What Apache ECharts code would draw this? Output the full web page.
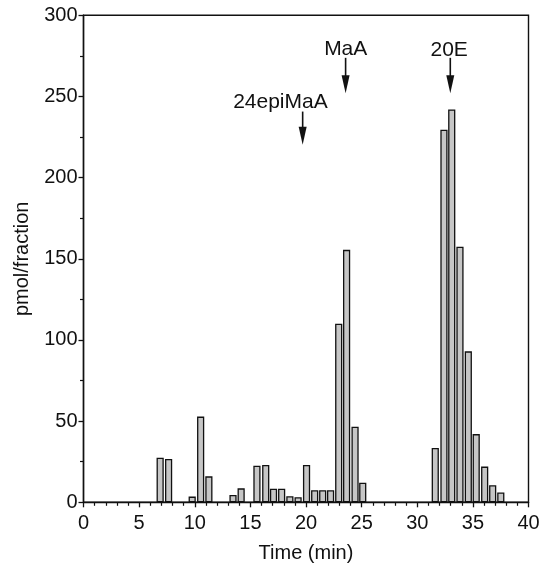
<!DOCTYPE html>
<html>
<head>
<meta charset="utf-8">
<script src="https://cdn.jsdelivr.net/npm/echarts@6/dist/echarts.min.js"></script>
<style>
  html, body { margin: 0; padding: 0; background: #fff; }
  #chart { width: 543px; height: 564px; }
</style>
</head>
<body>
<div id="chart"></div>
<script>
// Fraction retention times (min) and amount per fraction (pmol)
const fractionTimes = [
  6.89, 7.65, 9.77, 10.53, 11.27, 13.44, 14.17, 15.59, 16.38, 17.08,
  17.81, 18.55, 19.29, 20.05, 20.78, 21.50, 22.21, 22.94, 23.65, 24.41,
  25.10, 31.62, 32.40, 33.10, 33.84, 34.59, 35.30, 36.06, 36.78, 37.51
];
const pmolPerFraction = [
  27.5, 26.7, 3.5, 52.8, 16, 4.5, 8.6, 22.5, 23, 8.4,
  8.4, 3.7, 3.1, 23, 7.4, 7.4, 7.4, 110, 155.5, 46.5,
  12, 33.5, 229.5, 242, 157.5, 93, 42, 22, 10.5, 6
];

// Standard elution markers: name, arrow time, arrow top, arrow tip, label position
const markerNames = ['24epiMaA', 'MaA', '20E'];
const markerTimes = [19.7, 23.56, 32.97];
const markerArrowTop = [240.7, 273.8, 273.8];
const markerArrowTip = [220.2, 252, 252];
const markerLabelX = [17.7, 23.57, 32.87];
const markerLabelY = [246.6, 279.3, 278.7];

// Axis ticks
const xTicks = { min: 0, max: 40, step: 5 };
const yTicks = { min: 0, max: 300, step: 50 };

const ink = '#111';
const font = 'Liberation Sans';

const chart = echarts.init(document.getElementById('chart'), null, { renderer: 'canvas' });

const barData = fractionTimes.map((t, i) => [t, pmolPerFraction[i]]);
const markerData = markerNames.map((n, i) => [
  markerTimes[i], markerArrowTop[i], markerArrowTip[i], markerLabelX[i], markerLabelY[i]
]);

function renderMarker(params, api) {
  const top = api.coord([api.value(0), api.value(1)]);
  const tip = api.coord([api.value(0), api.value(2)]);
  const lab = api.coord([api.value(3), api.value(4)]);
  const headLen = 18, headHalf = 4;
  return {
    type: 'group',
    children: [
      {
        type: 'line',
        shape: { x1: top[0], y1: top[1], x2: tip[0], y2: tip[1] - headLen + 1 },
        style: { stroke: ink, lineWidth: 1.6 }
      },
      {
        type: 'polygon',
        shape: { points: [[tip[0] - headHalf, tip[1] - headLen], [tip[0] + headHalf, tip[1] - headLen], [tip[0], tip[1]]] },
        style: { fill: ink }
      },
      {
        type: 'text',
        x: lab[0], y: lab[1],
        style: {
          text: markerNames[params.dataIndex],
          fill: ink, font: '21px "' + font + '"',
          align: 'center', verticalAlign: 'middle'
        }
      }
    ]
  };
}

const axisCommon = {
  axisLine: { show: true, lineStyle: { color: ink, width: 1.4 } },
  axisTick: { show: true, length: 5, lineStyle: { color: ink, width: 1.3 } },
  minorTick: { show: true, length: 3.5, lineStyle: { color: ink, width: 1.2 } },
  splitLine: { show: false },
  minorSplitLine: { show: false },
  nameTextStyle: { fontFamily: font, fontSize: 20, color: ink }
};

chart.setOption({
  animation: false,
  backgroundColor: '#fff',
  grid: {
    left: 83.5, right: 14.5, top: 15.3, bottom: 61.7,
    outerBoundsMode: 'none',
    show: true, borderColor: ink, borderWidth: 1.4, backgroundColor: 'transparent'
  },
  xAxis: Object.assign({}, axisCommon, {
    type: 'value',
    min: xTicks.min, max: xTicks.max, interval: xTicks.step,
    minorTick: Object.assign({}, axisCommon.minorTick, { splitNumber: 5 }),
    axisLabel: { fontFamily: font, fontSize: 20, color: ink, margin: 11 },
    name: 'Time (min)', nameLocation: 'middle', nameGap: 41
  }),
  yAxis: Object.assign({}, axisCommon, {
    type: 'value',
    min: yTicks.min, max: yTicks.max, interval: yTicks.step,
    minorTick: Object.assign({}, axisCommon.minorTick, { splitNumber: 2 }),
    axisLabel: { fontFamily: font, fontSize: 20, color: ink, margin: 6, padding: [4, 0, 0, 0] },
    name: 'pmol/fraction', nameLocation: 'middle', nameGap: 51, nameRotate: 90
  }),
  series: [
    {
      type: 'bar',
      data: barData,
      barWidth: 7.2,
      barMaxWidth: 20,
      itemStyle: { color: '#c6c6c6', borderColor: ink, borderWidth: 1.3 }
    },
    {
      type: 'custom',
      data: markerData,
      encode: { x: [0, 3], y: [1, 2, 4] },
      renderItem: renderMarker,
      clip: false,
      silent: true
    }
  ]
});
</script>
</body>
</html>
